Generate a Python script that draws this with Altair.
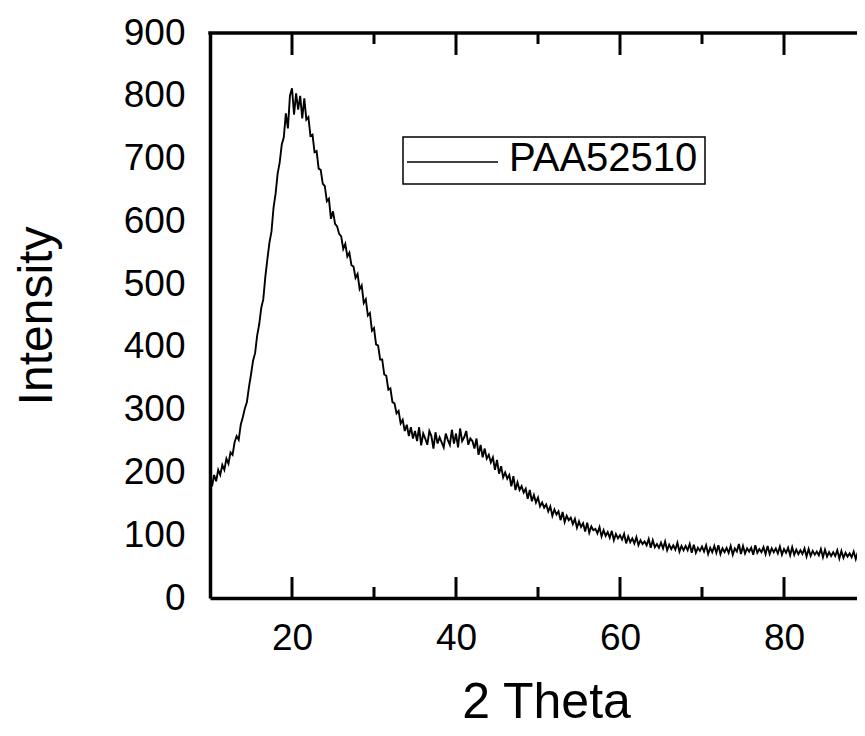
import altair as alt
import pandas as pd

# 2-theta grid (0.25 degree steps from 10 to 90) and intensities
theta_start = 10.0
theta_step = 0.25
intensity = [
    188, 178, 196, 186,   # 10
    204, 196, 212, 204,   # 11
    222, 214, 232, 228,   # 12
    248, 258, 252, 276,   # 13
    288, 302, 312, 336,   # 14
    356, 378, 390, 418,   # 15
    436, 462, 476, 512,   # 16
    540, 566, 584, 622,   # 17
    644, 676, 694, 722,   # 18
    734, 772, 748, 800,   # 19
    812, 770, 804, 778,   # 20
    800, 764, 796, 762,   # 21
    766, 736, 738, 710,   # 22
    712, 684, 682, 660,   # 23
    656, 632, 636, 604,   # 24
    616, 596, 592, 580,   # 25
    576, 556, 564, 544,   # 26
    550, 530, 528, 510,   # 27
    516, 492, 498, 470,   # 28
    476, 450, 454, 426,   # 29
    430, 404, 402, 380,   # 30
    380, 356, 354, 332,   # 31
    334, 312, 310, 294,   # 32
    298, 278, 284, 266,   # 33
    276, 258, 272, 254,   # 34
    266, 250, 272, 243,   # 35
    262, 254, 244, 266,   # 36
    258, 238, 264, 246,   # 37
    256, 248, 240, 262,   # 38
    252, 244, 268, 246,   # 39
    262, 240, 270, 250,   # 40
    256, 266, 244, 254,   # 41
    250, 238, 254, 228,   # 42
    244, 224, 238, 222,   # 43
    228, 216, 224, 204,   # 44
    220, 198, 210, 192,   # 45
    200, 190, 196, 178,   # 46
    194, 172, 184, 172,   # 47
    178, 168, 174, 158,   # 48
    172, 154, 164, 152,   # 49
    160, 146, 152, 144,   # 50
    149, 138, 146, 131,   # 51
    141, 133, 138, 124,   # 52
    137, 121, 131, 124,   # 53
    128, 118, 126, 112,   # 54
    122, 113, 119, 106,   # 55
    120, 104, 114, 108,   # 56
    110, 103, 113, 98,    # 57
    108, 99, 105, 96,     # 58
    107, 92, 102, 95,     # 59
    100, 93, 102, 87,     # 60
    98, 89, 95, 87,       # 61
    97, 84, 92, 86,       # 62
    90, 84, 94, 80,       # 63
    92, 81, 86, 80,       # 64
    88, 79, 90, 76,       # 65
    85, 78, 84, 77,       # 66
    88, 74, 83, 76,       # 67
    83, 76, 86, 72,       # 68
    85, 72, 80, 75,       # 69
    82, 74, 84, 70,       # 70
    80, 73, 83, 72,       # 71
    84, 70, 79, 73,       # 72
    80, 72, 83, 69,       # 73
    79, 74, 86, 70,       # 74
    83, 71, 79, 74,       # 75
    80, 69, 84, 72,       # 76
    78, 73, 81, 70,       # 77
    83, 70, 79, 73,       # 78
    79, 71, 82, 69,       # 79
    78, 72, 80, 68,       # 80
    81, 69, 77, 70,       # 81
    76, 70, 79, 66,       # 82
    78, 67, 75, 69,       # 83
    74, 68, 78, 65,       # 84
    77, 66, 73, 67,       # 85
    73, 67, 76, 63,       # 86
    75, 64, 72, 66,       # 87
    71, 65, 74, 62,       # 88
    73, 62, 70, 64,       # 89
    70,                   # 90
]
theta = [theta_start + theta_step * i for i in range(len(intensity))]

x_labels = [20, 40, 60, 80]
x_minor = [30, 50, 70]
y_labels = [0, 100, 200, 300, 400, 500, 600, 700, 800, 900]
series_name = ["PAA52510"]

FONT = "Liberation Sans"
W, H = 647, 565
XDOM = [10, 10 + 647 / 8.2]

df = pd.DataFrame({"theta": theta, "intensity": intensity})
major_df = pd.DataFrame({"theta": x_labels})
minor_df = pd.DataFrame({"theta": x_minor})
leg_df = pd.DataFrame({"name": series_name})

xscale = alt.Scale(domain=XDOM, nice=False, zero=False)
yscale = alt.Scale(domain=[0, 900], nice=False, zero=True)

line = alt.Chart(df).mark_line(color="black", strokeWidth=1.9, clip=True).encode(
    x=alt.X("theta:Q", scale=xscale,
            axis=alt.Axis(values=x_labels, ticks=False, tickSize=0, grid=False,
                          labelFontSize=37, labelFont=FONT, labelColor="black",
                          labelPadding=22, domainColor="black", domainWidth=3.5,
                          title="2 Theta", titleFont=FONT, titleFontSize=50,
                          titleFontWeight="normal", titleColor="black",
                          titleBaseline="alphabetic", titleY=119, titleX=336)),
    y=alt.Y("intensity:Q", scale=yscale,
            axis=alt.Axis(values=y_labels, ticks=False, tickSize=0, grid=False,
                          labelFontSize=37, labelFont=FONT, labelColor="black",
                          labelPadding=25, domainColor="black", domainWidth=3.5,
                          title="Intensity", titleFont=FONT, titleFontSize=48,
                          titleFontWeight="normal", titleColor="black",
                          titleBaseline="alphabetic", titleX=-159, titleAngle=270)),
)

def ticks(data, y0, y1):
    return alt.Chart(data).mark_rule(color="black", strokeWidth=3).encode(
        x=alt.X("theta:Q", scale=xscale),
        y=alt.value(y0), y2=alt.value(y1),
    )

top_border = alt.Chart(leg_df).mark_rule(color="black", strokeWidth=3.5, strokeCap="square").encode(
    x=alt.value(0), x2=alt.value(W), y=alt.value(0)
)

legend_box = alt.Chart(leg_df).mark_rect(fill="white", stroke="black", strokeWidth=1.5).encode(
    x=alt.value(193), x2=alt.value(495), y=alt.value(104), y2=alt.value(151)
)
legend_line = alt.Chart(leg_df).mark_rule(color="black", strokeWidth=1.4).encode(
    x=alt.value(197), x2=alt.value(288), y=alt.value(129)
)
legend_text = alt.Chart(leg_df).mark_text(
    align="left", baseline="alphabetic", font=FONT, fontSize=40, color="black"
).encode(x=alt.value(299), y=alt.value(138), text="name:N")

chart = alt.layer(
    line,
    ticks(major_df, H, H - 21), ticks(minor_df, H, H - 11),
    ticks(major_df, 0, 22), ticks(minor_df, 0, 11),
    top_border,
    legend_box, legend_line, legend_text,
).properties(
    width=W, height=H,
    autosize=alt.AutoSizeParams(type="none"),
    padding={"left": 202, "top": 25, "right": 0, "bottom": 130},
    background="white",
).configure_view(stroke=None)

chart.save("out.html", embed_options={"renderer": "svg", "actions": False})
